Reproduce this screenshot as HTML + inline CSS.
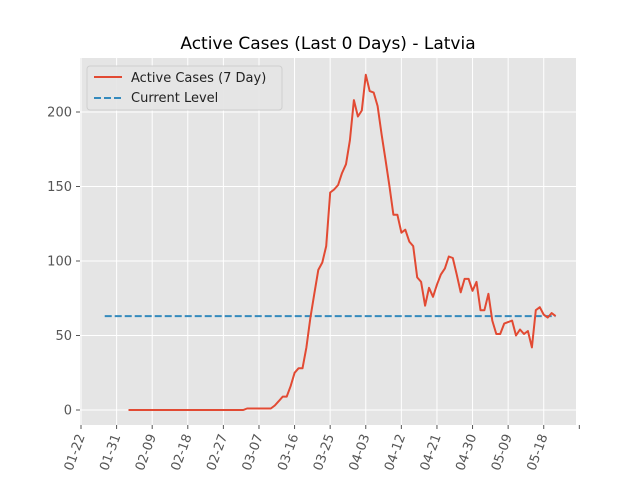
<!DOCTYPE html>
<html><head><meta charset="utf-8">
<style>
body{margin:0;background:#fff;font-family:"Liberation Sans","DejaVu Sans",sans-serif;}
svg text{font-family:"DejaVu Sans","Liberation Sans",sans-serif;}
</style></head>
<body>
<svg id="chart" width="640" height="480" viewBox="0 0 640 480" xmlns="http://www.w3.org/2000/svg">
<rect width="640" height="480" fill="#fff"/>
<text x="328" y="49" text-anchor="middle" font-size="17" fill="#000">Active Cases (Last 0 Days) - Latvia</text>
<rect x="80" y="58" width="496" height="367" fill="#e5e5e5"/>
<g id="grid"></g><g id="axes"></g><g id="series"></g>
<g>
<rect x="87" y="66" width="195" height="44" rx="3" fill="#e5e5e5" stroke="#cccccc" opacity="0.9"/>
<line x1="94" y1="77" x2="122" y2="77" stroke="#e24a33" stroke-width="2"/>
<text x="131" y="82" font-size="13" fill="#222">Active Cases (7 Day)</text>
<line x1="94" y1="98" x2="122" y2="98" stroke="#348abd" stroke-width="2" stroke-dasharray="7,3"/>
<text x="131" y="102" font-size="13" fill="#222">Current Level</text>
</g>
</svg>
<script>
const startDay = 12; // days after 01-22
const values = [0,0,0,0,0,0,0,0,0,0,0,0,0,0,0,0,0,0,0,0,0,0,0,0,0,0,0,0,0,0,
1,1,1,1,1,1,1,3,6,9,9,16,25,28,28,42,62,78,94,99,110,146,148,151,159,165,181,208,197,201,225,214,213,204,185,168,150,131,131,119,121,113,110,89,86,70,82,76,84,91,95,103,102,91,79,88,88,80,86,67,67,78,60,51,51,58,59,60,50,54,51,53,42,67,69,64,62,65,63];
const currentLevel = 63;
const levelStartDay = 6;
const tickLabels = ["01-22","01-31","02-09","02-18","02-27","03-07","03-16","03-25","04-03","04-12","04-21","04-30","05-09","05-18",""];
const yTicks = [0,50,100,150,200];
const NS="http://www.w3.org/2000/svg";
const X = d => 81 + d*3.955;
const Y = v => 410 - v*1.49;
function mk(tag, attrs, parent){const e=document.createElementNS(NS,tag);for(const k in attrs)e.setAttribute(k,attrs[k]);document.getElementById(parent).appendChild(e);return e;}
yTicks.forEach(v=>{
  const g=mk('line',{x1:80,x2:576,y1:Y(v),y2:Y(v),stroke:'#fff','stroke-width':1},'grid');
  
  
  const t=mk('line',{x1:76,x2:80,y1:Y(v),y2:Y(v),stroke:'#555'},'axes');
  
  
  const l=mk('text',{x:72,y:Y(v)+4.5,'text-anchor':'end','font-size':13,fill:'#555'},'axes');
  l.textContent=v;
  
  
});
tickLabels.forEach((s,i)=>{
  const x=X(i*9);
  const g=mk('line',{x1:x,x2:x,y1:58,y2:425,stroke:'#fff','stroke-width':1},'grid');
  
  
  const t=mk('line',{x1:x,x2:x,y1:425,y2:429,stroke:'#555'},'axes');
  
  
  if(s){
    const l=mk('text',{x:x+4,y:436,'text-anchor':'end','font-size':13,fill:'#555',transform:`rotate(-70 ${x+4} 436)`},'axes');
    l.textContent=s;
    
    
  }
});
const lastDay = startDay + values.length - 1;
const lvl=mk('line',{x1:X(levelStartDay),x2:X(lastDay),y1:Y(currentLevel),y2:Y(currentLevel),stroke:'#348abd','stroke-width':2,'stroke-dasharray':'7,3'},'series');


const pts=values.map((v,i)=>X(startDay+i).toFixed(1)+','+Y(v).toFixed(1)).join(' ');
const pl=mk('polyline',{points:pts,fill:'none',stroke:'#e24a33','stroke-width':2,'stroke-linejoin':'round'},'series');


</script>
</body></html>
